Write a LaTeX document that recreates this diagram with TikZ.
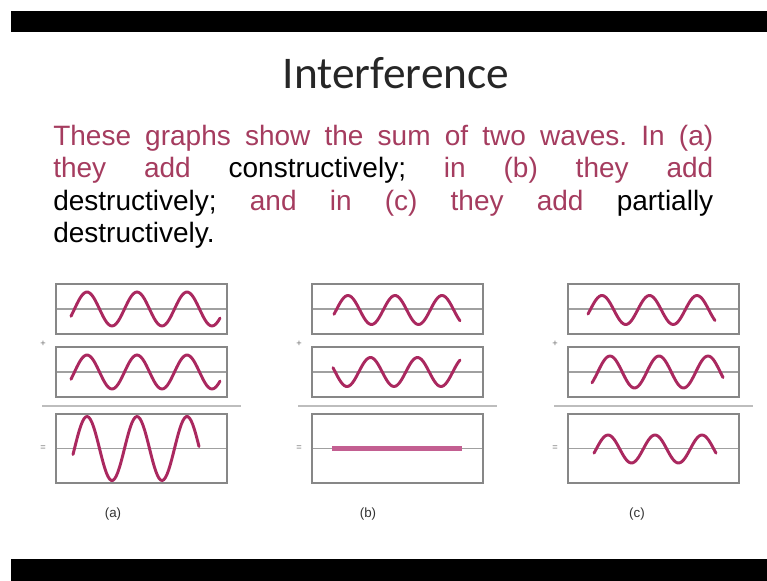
\documentclass[tikz,border=0pt]{standalone}
\usepackage{fontspec}
\setmainfont{Liberation Sans}
\newfontfamily\titlefont{Carlito}
\usepackage{xcolor}
\usepackage{tikz}
\definecolor{textpink}{RGB}{165,60,95}
\definecolor{wavecolor}{RGB}{170,40,95}
\definecolor{flatcolor}{RGB}{195,95,145}
\definecolor{framegray}{RGB}{135,135,135}
\definecolor{axisgray}{RGB}{160,160,160}
\frenchspacing

\tikzset{
  graphbox/.style={draw=framegray, line width=1pt},
  midline/.style={draw=axisgray, line width=0.9pt},
  sumline/.style={draw=axisgray!70, line width=1.6pt},
  wave/.style={draw=wavecolor, line width=2.2pt, line cap=round, samples=80},
  bodytext/.style={font=\fontsize{21}{25}\selectfont, anchor=base west, inner sep=0pt},
  sign/.style={text=black!55, font=\fontsize{7}{7}\selectfont, inner sep=0pt},
  caption/.style={font=\fontsize{10}{12}\selectfont, text=black!80, inner sep=0pt},
}

% from, to, peak x, period, amplitude, centre y
\newcommand{\wavecurve}[6]{%
  \draw[wave] plot[domain=#1:#2] (\x, {#6 - #5*cos(360/#4*(\x-#3))});
}

\begin{document}
\begin{tikzpicture}[x=0.75pt, y=-0.75pt]
  \useasboundingbox[fill=white] (0,0) rectangle (767,581);
  \fill[black] (11,11) rectangle (767,32);
  \fill[black] (11,559) rectangle (767,581);

  \node[font=\titlefont\fontsize{34}{40}\selectfont, text=black!85, anchor=base] (title) at (396,89) {Interference};

  \node[bodytext] (line1) at (53,146) {\makebox[495pt][s]{\textcolor{textpink}{These graphs show the sum of two waves. In (a)}}};
  \node[bodytext] (line2) at (53,178) {\makebox[495pt][s]{\textcolor{textpink}{they add} constructively; \textcolor{textpink}{in (b) they add}}};
  \node[bodytext] (line3) at (53,210) {\makebox[495pt][s]{destructively; \textcolor{textpink}{and in (c) they add} partially}};
  \node[bodytext] (line4) at (53,242) {destructively.};

  % three panels: boxes, axes, signs, captions
  \foreach \px/\lab/\lx in {56/a/113, 312/b/368, 568/c/637} {
    \draw[midline] (\px,309) -- ++(171,0);
    \draw[midline] (\px,372) -- ++(171,0);
    \draw[midline] (\px,448.5) -- ++(171,0);
    \draw[graphbox] (\px,284) rectangle ++(171,50);
    \draw[graphbox] (\px,347) rectangle ++(171,50);
    \draw[graphbox] (\px,414) rectangle ++(171,69);
    \draw[sumline] (\px-14,406) -- ++(199,0);
    \node[sign] (plus-\lab) at (\px-13,344) {+};
    \node[sign] (equal-\lab) at (\px-13,448.5) {=};
    \node[caption] (cap-\lab) at (\lx,514) {(\lab)};
  }

  % (a) constructive
  \wavecurve{71}{220}{87}{50}{17}{309}
  \wavecurve{71}{220}{87}{50}{17}{372}
  \wavecurve{73}{199}{87}{50}{32}{448.5}
  % (b) destructive
  \wavecurve{334}{460}{348}{47}{14.5}{310}
  \wavecurve{333}{460}{370.5}{47}{14.5}{372}
  \draw[flatcolor, line width=3.4pt] (332,448.5) -- (462,448.5);
  % (c) partially destructive
  \wavecurve{588}{715}{602}{47.5}{14.5}{310}
  \wavecurve{592}{723}{610}{49}{16}{372}
  \wavecurve{594}{716}{608}{47}{14}{449}
\end{tikzpicture}
\end{document}
